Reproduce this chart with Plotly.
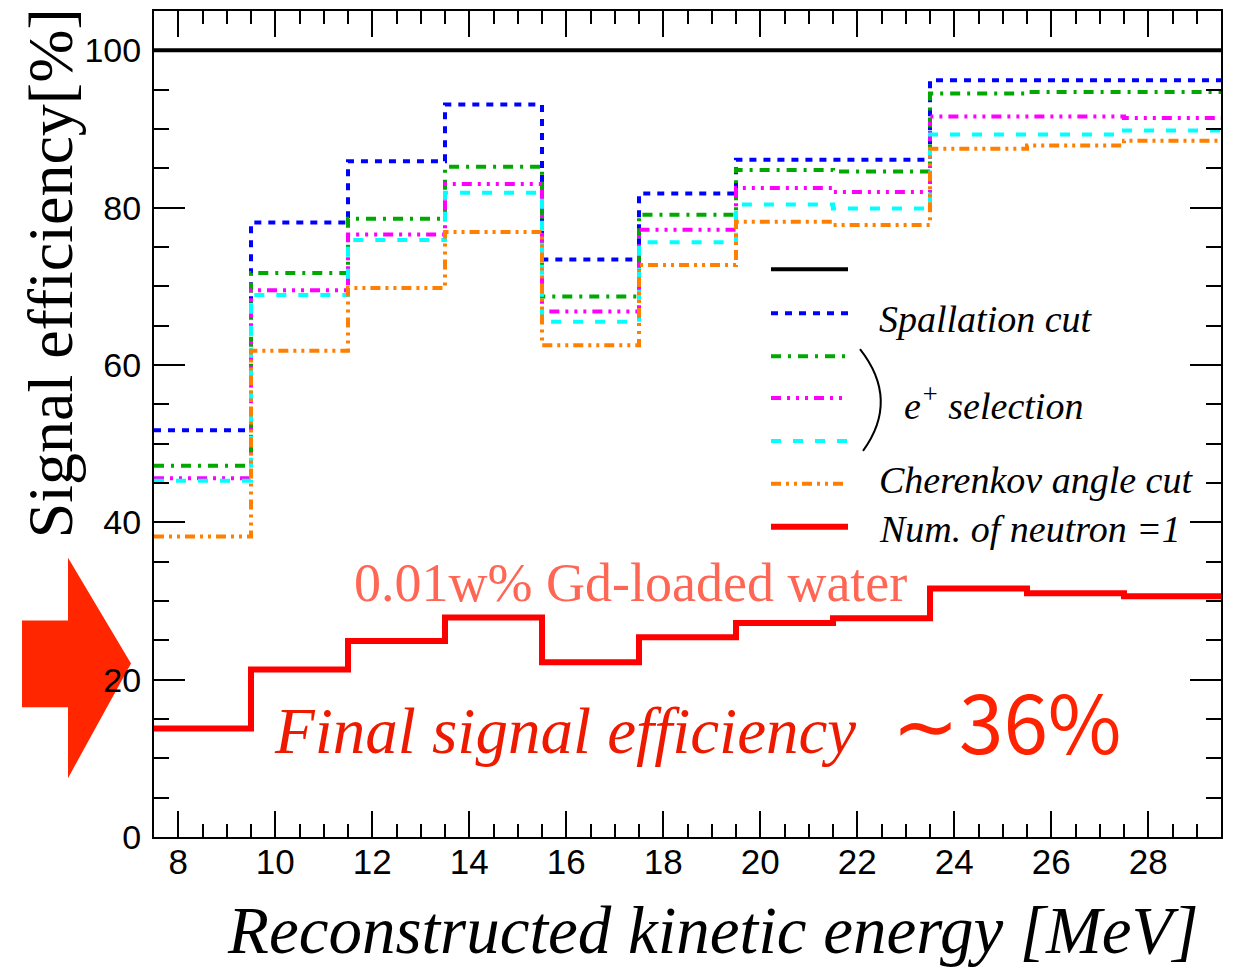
import plotly.graph_objects as go

# ---------------- data ----------------
bin_edges = [7.5, 9.5, 11.5, 13.5, 15.5, 17.5, 19.5, 21.5, 23.5, 25.5, 27.5, 29.5]
reference_level = [100, 100]
spallation = [51.7, 78.1, 85.9, 93.1, 73.4, 81.8, 86.1, 86.1, 96.2, 96.2, 96.2]
e_sel_1 = [47.2, 71.7, 78.6, 85.2, 68.7, 79.1, 84.8, 84.6, 94.5, 94.7, 94.7]
e_sel_2 = [45.6, 69.5, 76.6, 83.0, 66.8, 77.2, 82.5, 82.0, 91.6, 91.6, 91.4]
e_sel_3 = [45.3, 68.9, 75.9, 81.9, 65.5, 75.6, 80.4, 79.9, 89.3, 89.3, 89.8]
cherenkov = [38.2, 61.8, 69.8, 76.9, 62.5, 72.7, 78.2, 77.8, 87.5, 87.9, 88.5]
one_neutron = [13.8, 21.3, 24.9, 27.9, 22.2, 25.4, 27.2, 27.8, 31.6, 31.0, 30.6]
x_ticks = [8, 10, 12, 14, 16, 18, 20, 22, 24, 26, 28]
y_ticks = [0, 20, 40, 60, 80, 100]

# ---------------- layout helpers (pixel -> paper) ----------------
L, R, T, B = 154, 1221, 9, 837
W, H = R - L, B - T
def px(x):
    return (x - L) / W
def py(y):
    return (B - y) / H

SERIF = "Liberation Serif, Times New Roman, serif"
SANS = "Liberation Sans, Arial, sans-serif"

styles = [
    ("Spallation cut", spallation, "#0000FF", "7px,7px", 4),
    ("e+ sel 1", e_sel_1, "#00A800", "10px,7px,3px,7px", 4),
    ("e+ sel 2", e_sel_2, "#FF00FF", "10px,6px,3px,6px,3px,6px,3px,6px", 4),
    ("e+ sel 3", e_sel_3, "#00FFFF", "10px,12px", 4),
    ("Cherenkov angle cut", cherenkov, "#FF8000", "10px,5px,3px,5px,3px,5px", 4),
    ("Num. of neutron =1", one_neutron, "#FF0000", "solid", 6),
]

fig = go.Figure()
fig.add_trace(go.Scatter(x=[bin_edges[0], bin_edges[-1]], y=reference_level, mode="lines",
                         line=dict(color="black", width=4), showlegend=False))
for name, vals, col, dash, w in styles:
    fig.add_trace(go.Scatter(x=bin_edges, y=vals + [vals[-1]], mode="lines", line_shape="hv",
                             line=dict(color=col, width=w, dash=dash), name=name, showlegend=False))

# ---------------- custom legend ----------------
shapes = []
legend_rows = [("black", "solid", 4, 268)] + [(s[2], s[3], s[4], y) for s, y in zip(styles, [312, 355, 397, 440, 483, 526])]
for col, dash, w, y in legend_rows:
    shapes.append(dict(type="line", xref="paper", yref="paper", x0=px(771), x1=px(848), y0=py(y), y1=py(y),
                       line=dict(color=col, width=w, dash=dash)))
# bracket
shapes.append(dict(type="path", xref="paper", yref="paper",
                   path=f"M {px(860)},{py(348)} Q {px(900)},{py(399)} {px(863)},{py(450)}",
                   line=dict(color="black", width=2)))
# big arrow
arrow_pts = [(22, 620), (68, 620), (68, 557), (131, 663), (68, 778), (68, 707), (22, 707)]
path = "M " + " L ".join(f"{px(a)},{py(b)}" for a, b in arrow_pts) + " Z"
shapes.append(dict(type="path", xref="paper", yref="paper", path=path,
                   fillcolor="#FF2600", line=dict(width=0), layer="below"))

ann = []
def text(x, y, s, size, color="black", family=SERIF, style="normal", xanchor="left", angle=0, weight="normal"):
    ann.append(dict(x=px(x), y=py(y), xref="paper", yref="paper", text=s, showarrow=False,
                    xanchor=xanchor, yanchor="middle", textangle=angle,
                    font=dict(size=size, color=color, family=family, style=style, weight=weight)))

text(877, 318, "Spallation cut", 38, style="italic")
text(902, 402, "e<sup>+</sup> selection", 38, style="italic")
text(877, 479, "Cherenkov angle cut", 38, style="italic")
text(877, 528, "Num. of neutron =1", 38, style="italic")
text(630, 582, "0.01w% Gd-loaded water", 54, color="#FF6654", xanchor="center")
text(565, 731, "Final signal efficiency", 65, color="#EE1A00", style="italic", xanchor="center")
text(1006, 719, "∼36%", 80, color="#FF2200", family="Noto Sans CJK JP, Noto Sans, sans-serif", xanchor="center")
text(713, 930, "Reconstructed kinetic energy [MeV]", 67, style="italic", xanchor="center")
text(50, 272, "Signal efficiency[%]", 64, family=SERIF, xanchor="center", angle=-90)

fig.update_layout(
    width=1245, height=967,
    margin=dict(l=L, r=1245 - R, t=T, b=967 - B),
    paper_bgcolor="white", plot_bgcolor="white",
    shapes=shapes, annotations=ann, showlegend=False,
    xaxis=dict(range=[bin_edges[0], bin_edges[-1]], tickvals=x_ticks, ticktext=[str(v) for v in x_ticks],
               ticks="inside", ticklen=26, tickwidth=2, tickcolor="black", ticklabelstandoff=-7,
               minor=dict(dtick=0.5, tick0=0, ticks="inside", ticklen=13, tickwidth=2, tickcolor="black"),
               showline=True, linecolor="black", linewidth=2, mirror="ticks", showgrid=False, zeroline=False,
               tickfont=dict(family=SANS, size=35, color="black")),
    yaxis=dict(range=[0, 105], tickvals=y_ticks, ticktext=[str(v) for v in y_ticks],
               ticks="inside", ticklen=31, tickwidth=2, tickcolor="black", ticklabelstandoff=4,
               minor=dict(dtick=5, tick0=0, ticks="inside", ticklen=15, tickwidth=2, tickcolor="black"),
               showline=True, linecolor="black", linewidth=2, mirror="ticks", showgrid=False, zeroline=False,
               tickfont=dict(family=SANS, size=34, color="black")),
)

fig.write_html("out.html")
